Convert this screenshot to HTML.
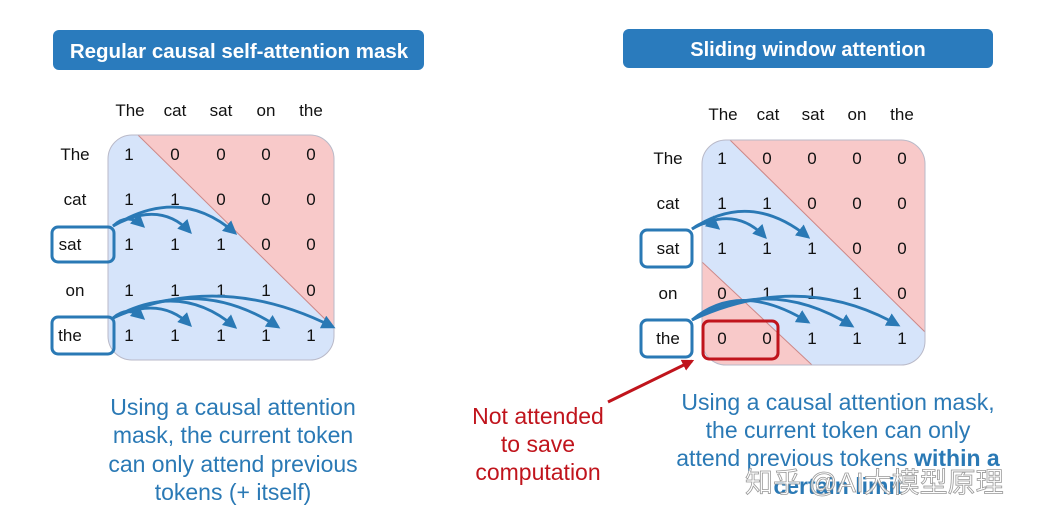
<!DOCTYPE html>
<html><head><meta charset="utf-8"><style>
html,body{margin:0;padding:0;background:#fff;}
svg{display:block;}
text{font-family:"Liberation Sans","Noto Sans CJK SC",sans-serif;}
</style></head><body>
<svg width="1058" height="523" viewBox="0 0 1058 523" xmlns="http://www.w3.org/2000/svg">
<defs>
<marker id="ab" viewBox="0 0 10 10" refX="8" refY="5" markerWidth="5" markerHeight="5" orient="auto"><path d="M0,0 L10,5 L0,10 z" fill="#2a79b5"/></marker>
<marker id="ar" viewBox="0 0 10 10" refX="8" refY="5" markerWidth="4" markerHeight="4" orient="auto"><path d="M0,0 L10,5 L0,10 z" fill="#c0141c"/></marker>
<clipPath id="cl"><rect x="108" y="135" width="226" height="225" rx="24"/></clipPath>
<clipPath id="cr"><rect x="702" y="140" width="223" height="225" rx="24"/></clipPath>
</defs>
<rect width="1058" height="523" fill="#fff"/>
<rect x="53" y="30" width="371" height="40" rx="6" fill="#2a7bbd"/>
<text x="239" y="58" font-size="20.5" font-weight="bold" fill="#fff" text-anchor="middle">Regular causal self-attention mask</text>
<rect x="623" y="29" width="370" height="39" rx="6" fill="#2a7bbd"/>
<text x="808" y="56" font-size="20" font-weight="bold" fill="#fff" text-anchor="middle">Sliding window attention</text>

<g clip-path="url(#cl)">
<rect x="108" y="135" width="226" height="225" fill="#d6e4fa"/>
<polygon points="138,135 334,135 334,328" fill="#f8c9c9"/>
<line x1="138" y1="135" x2="334" y2="328" stroke="#c88" stroke-width="1"/>
</g>
<rect x="108" y="135" width="226" height="225" rx="24" fill="none" stroke="#b9b9c8" stroke-width="1"/>
<g font-size="17" fill="#111" text-anchor="middle">
<text x="130" y="116">The</text><text x="175" y="116">cat</text><text x="221" y="116">sat</text><text x="266" y="116">on</text><text x="311" y="116">the</text>
<text x="75" y="160">The</text><text x="75" y="205">cat</text><text x="70" y="250">sat</text><text x="75" y="296">on</text><text x="70" y="341">the</text>
<text x="129" y="160">1</text><text x="175" y="160">0</text><text x="221" y="160">0</text><text x="266" y="160">0</text><text x="311" y="160">0</text>
<text x="129" y="205">1</text><text x="175" y="205">1</text><text x="221" y="205">0</text><text x="266" y="205">0</text><text x="311" y="205">0</text>
<text x="129" y="250">1</text><text x="175" y="250">1</text><text x="221" y="250">1</text><text x="266" y="250">0</text><text x="311" y="250">0</text>
<text x="129" y="296">1</text><text x="175" y="296">1</text><text x="221" y="296">1</text><text x="266" y="296">1</text><text x="311" y="296">0</text>
<text x="129" y="341">1</text><text x="175" y="341">1</text><text x="221" y="341">1</text><text x="266" y="341">1</text><text x="311" y="341">1</text>
</g>
<rect x="52" y="227" width="62" height="35" rx="6" fill="none" stroke="#2a79b5" stroke-width="3"/>
<rect x="52" y="317" width="62" height="37" rx="6" fill="none" stroke="#2a79b5" stroke-width="3"/>
<g fill="none" stroke="#2a79b5" stroke-width="2.8">
<path d="M113,226 Q128,212 143,226" marker-end="url(#ab)"/>
<path d="M113,226 Q160,200 190,232" marker-end="url(#ab)"/>
<path d="M113,226 Q180,185 235,233" marker-end="url(#ab)"/>
<path d="M113,318 Q128,305 143,318" marker-end="url(#ab)"/>
<path d="M113,318 Q160,295 190,325" marker-end="url(#ab)"/>
<path d="M113,318 Q180,280 235,327" marker-end="url(#ab)"/>
<path d="M113,318 Q200,275 278,327" marker-end="url(#ab)"/>
<path d="M113,318 Q220,270 333,327" marker-end="url(#ab)"/>
</g>
<g font-size="23" fill="#2a79b5" text-anchor="middle">
<text x="233" y="415">Using a causal attention</text>
<text x="233" y="443">mask, the current token</text>
<text x="233" y="472">can only attend previous</text>
<text x="233" y="500">tokens (+ itself)</text>
</g>

<g clip-path="url(#cr)">
<rect x="702" y="140" width="223" height="225" fill="#d6e4fa"/>
<polygon points="730,140 925,140 925,332" fill="#f8c9c9"/>
<polygon points="702,262 812,365 702,365" fill="#f8c9c9"/>
<line x1="730" y1="140" x2="925" y2="332" stroke="#c88" stroke-width="1"/>
<line x1="702" y1="262" x2="812" y2="365" stroke="#c88" stroke-width="1"/>
</g>
<rect x="702" y="140" width="223" height="225" rx="24" fill="none" stroke="#b9b9c8" stroke-width="1"/>
<g font-size="17" fill="#111" text-anchor="middle">
<text x="723" y="120">The</text><text x="768" y="120">cat</text><text x="813" y="120">sat</text><text x="857" y="120">on</text><text x="902" y="120">the</text>
<text x="668" y="164">The</text><text x="668" y="209">cat</text><text x="668" y="254">sat</text><text x="668" y="299">on</text><text x="668" y="344">the</text>
<text x="722" y="164">1</text><text x="767" y="164">0</text><text x="812" y="164">0</text><text x="857" y="164">0</text><text x="902" y="164">0</text>
<text x="722" y="209">1</text><text x="767" y="209">1</text><text x="812" y="209">0</text><text x="857" y="209">0</text><text x="902" y="209">0</text>
<text x="722" y="254">1</text><text x="767" y="254">1</text><text x="812" y="254">1</text><text x="857" y="254">0</text><text x="902" y="254">0</text>
<text x="722" y="299">0</text><text x="767" y="299">1</text><text x="812" y="299">1</text><text x="857" y="299">1</text><text x="902" y="299">0</text>
<text x="722" y="344">0</text><text x="767" y="344">0</text><text x="812" y="344">1</text><text x="857" y="344">1</text><text x="902" y="344">1</text>
</g>
<rect x="641" y="230" width="51" height="37" rx="6" fill="none" stroke="#2a79b5" stroke-width="3"/>
<rect x="641" y="320" width="51" height="37" rx="6" fill="none" stroke="#2a79b5" stroke-width="3"/>
<rect x="703" y="321" width="75" height="38" rx="6" fill="none" stroke="#c0141c" stroke-width="3"/>
<g fill="none" stroke="#2a79b5" stroke-width="2.8">
<path d="M692,229 Q706,218 718,228" marker-end="url(#ab)"/>
<path d="M692,229 Q735,205 765,237" marker-end="url(#ab)"/>
<path d="M692,229 Q750,190 808,237" marker-end="url(#ab)"/>
<path d="M692,320 Q740,280 808,322" marker-end="url(#ab)"/>
<path d="M692,320 Q770,275 852,326" marker-end="url(#ab)"/>
<path d="M692,320 Q800,270 898,325" marker-end="url(#ab)"/>
</g>
<line x1="608" y1="402" x2="692" y2="361" stroke="#c0141c" stroke-width="3" marker-end="url(#ar)"/>
<g font-size="23" fill="#c0141c" text-anchor="middle">
<text x="538" y="424">Not attended</text>
<text x="538" y="452">to save</text>
<text x="538" y="480">computation</text>
</g>
<g font-size="23" fill="#2a79b5" text-anchor="middle">
<text x="838" y="410">Using a causal attention mask,</text>
<text x="838" y="438">the current token can only</text>
<text x="838" y="466">attend previous tokens <tspan font-weight="bold">within a</tspan></text>
<text x="838" y="494" font-weight="bold">certain limit</text>
</g>
<text x="745" y="492" font-size="28" fill="#fff" stroke="#999" stroke-width="0.8" fill-opacity="0.8">知乎 @AI大模型原理</text>
</svg>
</body></html>
